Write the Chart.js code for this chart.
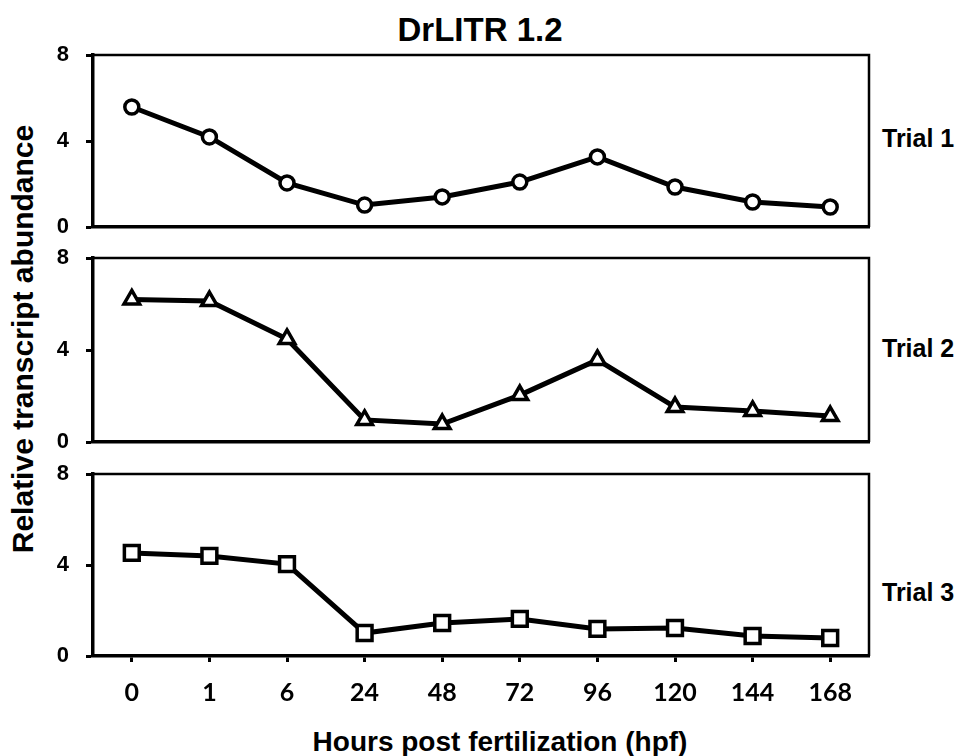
<!DOCTYPE html>
<html>
<head>
<meta charset="utf-8">
<script src="https://cdn.jsdelivr.net/npm/chart.js@4.4.0/dist/chart.umd.min.js"></script>
<style>
  body { margin: 0; background: #fff; }
  #wrap { position: relative; width: 967px; height: 756px; overflow: hidden;
          font-family: "Liberation Sans", Arial, sans-serif; font-weight: bold; color: #000; }
  canvas { position: absolute; left: 0; }
  .lbl { position: absolute; line-height: 1; white-space: nowrap; }
</style>
</head>
<body>
<div id="wrap">
  <div class="lbl" style="left:480px; top:13px; font-size:33px; transform:translateX(-50%);">DrLITR 1.2</div>
  <div class="lbl" style="left:23px; top:339px; font-size:30px; transform:translate(-50%,-50%) rotate(-90deg);">Relative transcript abundance</div>
  <div class="lbl" style="left:500px; top:728px; font-size:28px; transform:translateX(-50%);">Hours post fertilization (hpf)</div>
  <div class="lbl" id="t1" style="left:882px; top:126px; font-size:25px;"></div>
  <div class="lbl" id="t2" style="left:882px; top:336px; font-size:25px;"></div>
  <div class="lbl" id="t3" style="left:882px; top:580px; font-size:25px;"></div>
  <canvas id="c1" width="967" height="202" style="top:40px"></canvas>
  <canvas id="c2" width="967" height="214" style="top:243px"></canvas>
  <canvas id="c3" width="967" height="297" style="top:459px"></canvas>
</div>
<script>
// data
var hours = ['0', '1', '6', '24', '48', '72', '96', '120', '144', '168'];
var trial1 = [5.58, 4.19, 2.05, 1.02, 1.40, 2.09, 3.26, 1.86, 1.16, 0.93];
var trial2 = [6.20, 6.13, 4.48, 0.96, 0.78, 2.04, 3.57, 1.52, 1.35, 1.13];
var trial3 = [4.53, 4.40, 4.04, 1.01, 1.45, 1.63, 1.19, 1.23, 0.88, 0.79];
var trialNames = ['Trial 1', 'Trial 2', 'Trial 3'];
var yMin = 0, yMax = 8, yStep = 4;

document.getElementById('t1').textContent = trialNames[0];
document.getElementById('t2').textContent = trialNames[1];
document.getElementById('t3').textContent = trialNames[2];

// top and right edges of the box
var framePlugin = {
  id: 'frame',
  beforeDatasetsDraw: function (chart) {
    var a = chart.chartArea, ctx = chart.ctx;
    ctx.save();
    ctx.strokeStyle = '#000';
    ctx.lineWidth = 2.5;
    ctx.beginPath();
    ctx.moveTo(a.left, a.top);
    ctx.lineTo(a.right, a.top);
    ctx.lineTo(a.right, a.bottom);
    ctx.stroke();
    ctx.restore();
  }
};

function makePanel(id, values, name, style, radius, showX) {
  var ctx = document.getElementById(id).getContext('2d');
  return new Chart(ctx, {
    type: 'line',
    data: {
      labels: hours,
      datasets: [{
        label: name,
        data: values,
        borderColor: '#000',
        borderWidth: 5,
        pointStyle: style,
        pointRadius: radius,
        pointBorderWidth: 3.5,
        pointBorderColor: '#000',
        pointBackgroundColor: '#fff',
        fill: false,
        tension: 0
      }]
    },
    options: {
      responsive: false,
      animation: false,
      layout: { padding: { top: 15, right: 98, bottom: showX ? 0 : 15, left: 0 } },
      plugins: { legend: { display: false }, tooltip: { enabled: false } },
      scales: {
        x: {
          offset: true,
          afterFit: function (s) { s.height = showX ? 100 : 0; s.paddingLeft = 0; s.paddingRight = 0; },
          grid: { display: showX, drawOnChartArea: false, drawTicks: true, tickLength: 6, tickWidth: 3, tickColor: '#000' },
          border: { display: true, width: 3.5, color: '#000' },
          ticks: {
            display: showX,
            padding: 16,
            color: '#000',
            font: { family: 'Lato', weight: 'bold', size: 25 }
          }
        },
        y: {
          min: yMin,
          max: yMax,
          afterFit: function (s) { s.width = 93; s.paddingTop = 0; s.paddingBottom = 0; },
          grid: { display: true, drawOnChartArea: false, drawTicks: true, tickLength: 7, tickWidth: 3, tickColor: '#000' },
          border: { display: true, width: 3.5, color: '#000' },
          ticks: {
            stepSize: yStep,
            padding: 17,
            color: '#000',
            font: { family: 'Liberation Sans', weight: 'bold', size: 22 }
          }
        }
      }
    },
    plugins: [framePlugin]
  });
}

makePanel('c1', trial1, trialNames[0], 'circle', 7, false);
makePanel('c2', trial2, trialNames[1], 'triangle', 9, false);
makePanel('c3', trial3, trialNames[2], 'rect', 10.5, true);
</script>
</body>
</html>
